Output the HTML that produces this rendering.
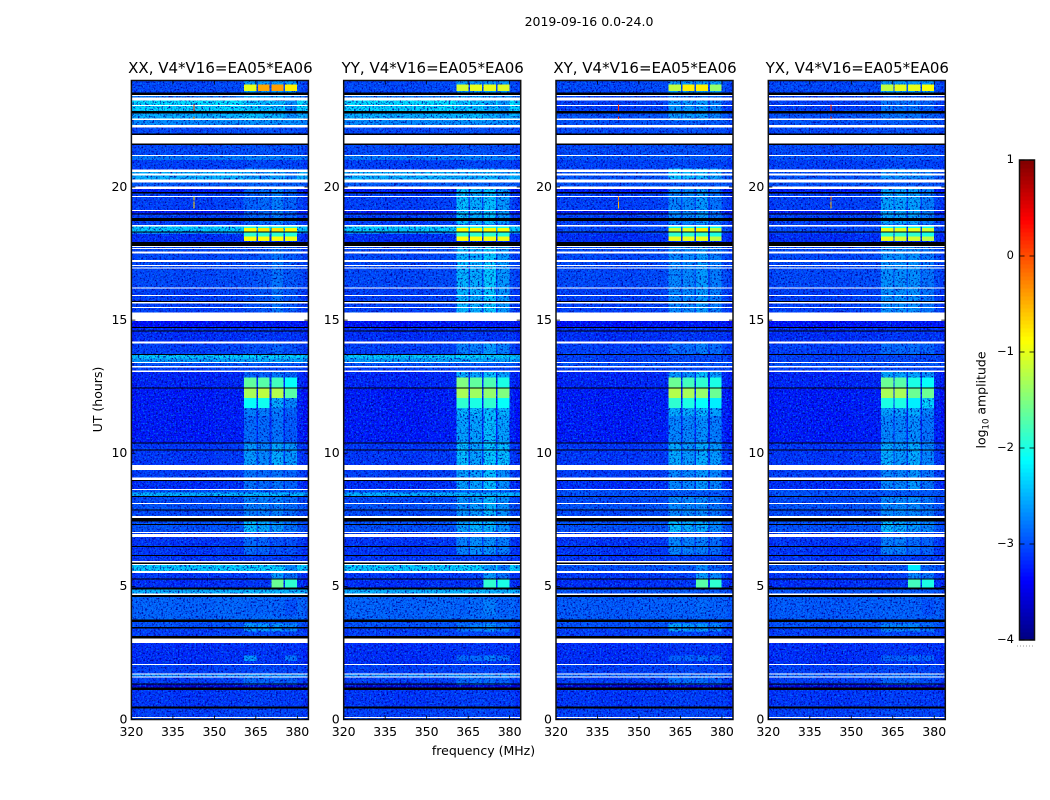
<!DOCTYPE html>
<html lang="en">
<head>
<meta charset="utf-8">
<title>2019-09-16 0.0-24.0</title>
<style>
html,body{margin:0;padding:0;background:#fff;}
#figure{display:block;width:1050px;height:800px;}
text{font-family:"DejaVu Sans","Liberation Sans",sans-serif;fill:#000;}
</style>
</head>
<body>
<svg id="figure" xmlns="http://www.w3.org/2000/svg" width="1050" height="800" viewBox="0 0 1050 800">
  <defs>
    <filter id="speckle-dark" x="0" y="0" width="1" height="1" color-interpolation-filters="sRGB">
      <feTurbulence type="fractalNoise" baseFrequency="0.55" numOctaves="2" seed="4"/>
      <feColorMatrix type="matrix" values="0 0 0 0 0  0 0 0 0 0  0 0 0 0 0.6  4 0 0 0 -2"/>
    </filter>
    <filter id="speckle-bright" x="0" y="0" width="1" height="1" color-interpolation-filters="sRGB">
      <feTurbulence type="fractalNoise" baseFrequency="0.6" numOctaves="2" seed="11"/>
      <feColorMatrix type="matrix" values="0 0 0 0 0  0 0 0 0 0.6  0 0 0 0 1  0 4 0 0 -2"/>
    </filter>
  </defs>
  <text x="589" y="26" font-size="12.5" text-anchor="middle">2019-09-16 0.0-24.0</text>
  <text x="483.5" y="755" font-size="12.5" text-anchor="middle">frequency (MHz)</text>
  <text x="0" y="0" font-size="12.5" text-anchor="middle" transform="translate(102,399.5) rotate(-90)">UT (hours)</text>
  <text x="0" y="0" font-size="12.5" text-anchor="middle" transform="translate(985.5,400) rotate(-90)">log<tspan font-size="8.5" dy="3">10</tspan><tspan dy="-3"> amplitude</tspan></text>
  <g id="panels"></g>
  <g id="colorbar"></g>
</svg>
<script>
const n = null;
const panelTitles = ["XX, V4*V16=EA05*EA06", "YY, V4*V16=EA05*EA06", "XY, V4*V16=EA05*EA06", "YX, V4*V16=EA05*EA06"];
const xTicks = [320, 335, 350, 365, 380];
const yTicks = [0, 5, 10, 15, 20];
const colorTicks = [-4, -3, -2, -1, 0, 1];
const freqMin = 320, freqMax = 384, utMin = 0, utMax = 24, colorMin = -4, colorMax = 1;

// Time rows: upper edge in UT hours, flag (d data, w white gap, k black flagged), log10 amplitude.
const rowTopUT = [
 0.05,0.09,0.41,0.48,1.11,1.21,1.33,1.36,1.57,1.61,
 1.70,1.73,2.05,2.08,2.88,3.05,3.14,3.42,3.48,3.67,
 3.76,4.61,4.68,4.74,4.89,4.96,5.26,5.30,5.51,5.58,
 5.80,5.84,5.90,5.95,6.15,6.18,6.49,6.52,6.86,6.97,
 7.01,7.04,7.33,7.35,7.43,7.57,7.64,7.87,7.89,8.10,
 8.14,8.37,8.39,8.53,8.62,8.66,8.97,8.99,9.09,9.37,
 9.56,10.12,10.15,10.37,10.41,11.70,12.45,12.47,13.06,13.10,
 13.23,13.27,13.39,13.43,13.56,13.69,13.73,14.13,14.19,14.60,
 14.61,14.73,14.75,14.96,15.28,15.45,15.50,15.63,15.68,15.72,
 15.90,15.94,16.18,16.23,16.94,16.98,17.03,17.07,17.19,17.25,
 17.51,17.57,17.67,17.71,17.75,17.79,17.94,18.23,18.29,18.32,
 18.51,18.57,18.72,18.84,18.98,19.01,19.10,19.13,19.62,19.67,
 19.76,19.82,19.93,20.01,20.16,20.29,20.43,20.51,20.57,20.66,
 21.01,21.16,21.20,21.57,21.64,21.95,22.01,22.24,22.33,22.51,
 22.58,22.76,22.86,23.04,23.08,23.24,23.36,23.43,23.46,23.54,24.00];
const rowFlag = [
 "d","w","d","k","d","k","d","k","d","w",
 "d","w","d","w","d","w","k","d","k","d",
 "k","d","k","w","d","k","d","k","d","w",
 "d","w","k","w","d","k","d","k","d","w",
 "d","w","d","k","d","k","w","d","k","d",
 "w","d","k","d","d","w","d","k","w","d",
 "w","d","k","d","k","d","d","k","d","w",
 "d","w","d","w","d","d","k","d","w","d",
 "k","d","k","d","w","d","w","d","w","k",
 "d","w","d","w","d","w","d","w","d","w",
 "d","w","d","w","d","w","k","d","d","k",
 "d","w","d","k","d","k","d","w","d","w",
 "d","k","d","w","d","w","d","w","d","w",
 "d","d","w","d","k","w","k","d","w","d",
 "w","d","k","d","w","d","w","d","w","k","d"];
const levelParallel = [
 -3.05,n,-3.1,n,-3.15,n,-3.6,n,-3.1,n,
 -2.7,n,-3.1,n,-3.2,n,n,-3.1,n,-3.0,
 n,-2.9,n,n,-2.5,n,-3.2,n,-3.15,n,
 -2.35,n,n,n,-3.15,n,-3.15,n,-3.15,n,
 -3.1,n,-3.0,n,-3.0,n,n,-3.05,n,-3.0,
 n,-3.05,n,-2.5,-3.0,n,-3.2,n,n,-3.1,
 n,-3.15,n,-3.15,n,-3.3,-3.3,n,-3.25,n,
 -3.1,n,-3.0,n,-2.6,-2.35,n,-3.1,n,-3.2,
 n,-3.2,n,-3.35,n,-3.1,n,-3.1,n,n,
 -3.1,n,-3.1,n,-3.05,n,-3.05,n,-3.05,n,
 -3.05,n,-3.05,n,-3.05,n,n,-3.2,-2.7,n,
 -2.35,n,-3.1,n,-3.1,n,-3.3,n,-3.1,n,
 -3.1,n,-3.3,n,-2.95,n,-2.5,n,-2.5,n,
 -3.1,-2.8,n,-3.05,n,n,n,-3.05,n,-2.7,
 n,-2.5,n,-2.3,n,-2.25,n,-2.8,n,n,-3.05];
const levelCross = [
 -3.05,n,-3.1,n,-3.15,n,-3.6,n,-3.1,n,
 -2.9,n,-3.1,n,-3.2,n,n,-3.1,n,-3.0,
 n,-2.95,n,n,-3.0,n,-3.2,n,-3.15,n,
 -3.0,n,n,n,-3.15,n,-3.15,n,-3.15,n,
 -3.1,n,-3.0,n,-3.0,n,n,-3.05,n,-3.0,
 n,-3.05,n,-3.0,-3.0,n,-3.2,n,n,-3.1,
 n,-3.15,n,-3.15,n,-3.3,-3.3,n,-3.25,n,
 -3.1,n,-3.0,n,-3.1,-3.1,n,-3.1,n,-3.2,
 n,-3.2,n,-3.35,n,-3.1,n,-3.1,n,n,
 -3.1,n,-3.1,n,-3.05,n,-3.05,n,-3.05,n,
 -3.05,n,-3.05,n,-3.05,n,n,-3.2,-3.1,n,
 -3.05,n,-3.1,n,-3.1,n,-3.3,n,-3.1,n,
 -3.1,n,-3.3,n,-3.0,n,-3.0,n,-3.0,n,
 -3.1,-3.0,n,-3.05,n,n,n,-3.05,n,-3.0,
 n,-3.0,n,-3.1,n,-3.1,n,-3.1,n,n,-3.05];

// Slow bandpass ripple across frequency (log10 offset per frequency span).
const bandpassEdges = [320, 322, 335, 350, 362, 372, 382, 384];
const bandpassOffset = [-0.02, 0.02, 0, 0.03, 0.06, 0.04, -0.04];

// Four RFI-bright frequency blocks.
const blockStartMHz = [360.7, 365.7, 370.6, 375.6];
const blockEndMHz = [365.2, 370.0, 375.0, 379.9];
const brightThreshold = -2.2;

// Time spans with emission in those blocks and per-polarisation log10 amplitude per block.
const rfiStartUT = [1.3,2.2,3.3,3.9,4.96,5.26,5.6,6.2,7.0,7.65,8.6,9.56,10.4,11.4,11.7,12.07,12.45,12.85,13.73,15.0,17.97,18.15,18.3,18.46,18.6,20.3,22.5,23.54,23.61,23.85];
const rfiEndUT = [1.6,2.4,3.6,4.5,5.26,5.5,5.8,6.9,7.65,8.37,9.56,10.4,11.4,11.7,12.07,12.45,12.85,13.1,14.2,17.9,18.15,18.3,18.46,18.52,20.0,20.7,23.4,23.61,23.85,24.0];
const rfiXX = [[-2.85,-2.9,-2.9,-2.9],[-2.6,n,n,-2.8],[-2.6,-2.6,-2.6,-2.7],[-2.9,-2.9,-2.9,-3.0],[n,n,-1.6,-1.9],[n,n,-2.6,-2.8],[n,n,-2.3,-2.7],[-2.85,-2.9,-3.0,-3.0],[-2.4,-2.5,-2.6,-2.8],[-2.75,-2.75,-2.75,-2.85],[-2.8,-2.85,-2.8,-2.9],[-2.6,-2.7,-2.5,-2.6],[-2.85,-2.85,-2.8,-2.95],[-2.75,-2.75,-2.75,-2.9],[-2.1,-2.05,-2.5,-2.7],[-1.3,-1.2,-1.25,-1.7],[-1.65,-1.7,-1.8,-2.1],[-2.9,-2.9,-2.8,-2.9],[-3.0,-3.0,-2.9,-3.0],[-3.0,-2.95,-2.8,-2.95],[-0.9,-0.9,-0.9,-0.95],[-1.9,-1.9,-1.9,-1.95],[-0.85,-0.75,-0.75,-0.85],[-2.0,-2.0,-2.0,-2.0],[-2.9,-2.85,-2.75,-2.9],[-2.6,-2.7,-2.6,-2.8],[-2.35,-2.45,-2.45,-2.65],[-2.6,-2.6,-2.6,-2.6],[-1.0,-0.45,-0.4,-0.8],[-2.6,-2.6,-2.6,-2.6]];
const rfiYY = [[-2.85,-2.85,-2.85,-2.9],[-2.85,-2.85,-2.75,-2.85],[-2.8,-2.75,-2.65,-2.8],[-2.9,-2.85,-2.75,-2.9],[n,n,-1.9,-2.0],[n,n,-2.6,-2.8],[n,n,-2.6,-2.8],[-2.75,-2.65,-2.65,-2.75],[-2.55,-2.45,-2.45,-2.65],[-2.65,-2.6,-2.45,-2.65],[-2.55,-2.55,-2.4,-2.65],[-2.4,-2.55,-2.35,-2.4],[-2.55,-2.55,-2.4,-2.55],[-2.45,-2.45,-2.4,-2.45],[-1.9,-2.0,-1.9,-2.1],[-1.3,-1.35,-1.4,-1.5],[-1.5,-1.65,-1.75,-2.0],[-2.5,-2.55,-2.4,-2.55],[-2.75,-2.75,-2.6,-2.75],[-2.45,-2.5,-2.35,-2.6],[-0.9,-0.9,-0.95,-0.95],[-1.9,-1.9,-1.9,-1.95],[-0.85,-0.85,-0.85,-0.9],[-2.0,-2.0,-2.0,-2.0],[-2.4,-2.5,-2.4,-2.6],[-2.55,-2.55,-2.45,-2.65],[-2.4,-2.4,-2.5,-2.6],[-2.6,-2.6,-2.6,-2.6],[-1.1,-1.0,-1.0,-1.05],[-2.6,-2.6,-2.6,-2.6]];
const rfiXY = [[-2.85,-2.85,-2.85,-2.9],[-2.9,-2.9,-2.85,-2.9],[-2.5,-2.6,-2.6,-2.7],[-2.9,-2.9,-2.85,-2.9],[n,n,-1.7,-1.9],[n,n,-2.6,-2.7],[n,n,-2.7,-2.9],[-2.7,-2.75,-2.75,-2.85],[-2.4,-2.5,-2.5,-2.7],[-2.7,-2.7,-2.7,-2.8],[-2.7,-2.7,-2.6,-2.7],[-2.5,-2.6,-2.5,-2.6],[-2.7,-2.7,-2.65,-2.75],[-2.5,-2.5,-2.45,-2.55],[-1.9,-2.0,-2.1,-2.2],[-1.25,-1.3,-1.4,-1.6],[-1.6,-1.8,-1.9,-2.0],[-2.6,-2.65,-2.4,-2.6],[-2.85,-2.85,-2.75,-2.85],[-2.7,-2.7,-2.6,-2.75],[-1.0,-1.0,-1.0,-1.2],[-1.9,-1.9,-1.9,-2.0],[-1.1,-1.0,-0.8,-1.2],[-2.1,-2.1,-2.1,-2.1],[-2.7,-2.7,-2.6,-2.8],[-2.35,-2.45,-2.45,-2.55],[-2.6,-2.6,-2.6,-2.7],[-2.6,-2.6,-2.6,-2.6],[-1.2,-0.8,-0.8,-1.4],[-2.6,-2.6,-2.6,-2.6]];
const rfiYX = [[-2.9,-2.9,-2.9,-3.0],[-2.9,-2.9,-2.85,-2.9],[-2.7,-2.7,-2.7,-2.8],[-2.9,-2.9,-2.9,-3.0],[n,n,-1.8,-2.0],[n,n,-2.7,-2.8],[n,n,-2.2,-2.9],[-2.75,-2.75,-2.85,-2.9],[-2.4,-2.5,-2.6,-2.7],[-2.7,-2.7,-2.7,-2.8],[-2.7,-2.7,-2.6,-2.8],[-2.5,-2.6,-2.5,-2.7],[-2.7,-2.7,-2.65,-2.8],[-2.55,-2.55,-2.5,-2.7],[-2.0,-2.0,-2.2,-2.3],[-1.3,-1.3,-1.6,-1.6],[-1.6,-1.7,-2.0,-2.1],[-2.55,-2.55,-2.55,-2.65],[-2.85,-2.85,-2.85,-2.9],[-2.65,-2.65,-2.65,-2.8],[-1.0,-1.1,-1.1,-1.2],[-1.9,-1.9,-1.9,-2.0],[-0.95,-1.0,-1.0,-1.1],[-2.1,-2.1,-2.1,-2.1],[-2.55,-2.55,-2.55,-2.75],[-2.65,-2.65,-2.65,-2.75],[-2.8,-2.8,-2.8,-2.9],[-2.6,-2.6,-2.6,-2.6],[-1.2,-1.0,-1.0,-0.9],[-2.6,-2.6,-2.6,-2.6]];

// Narrow-band spike at one channel (log10 amplitude per span, per polarisation).
const spikeFreqMHz = 342.4;
const spikeStartUT = [22.85, 22.55, 19.2, 19.5];
const spikeEndUT = [23.1, 22.65, 19.45, 19.65];
const spikeXX = [0.1, -0.2, -0.7, -0.7];
const spikeYY = [n, n, n, n];
const spikeXY = [0.2, 0.2, -0.5, -0.2];
const spikeYX = [0.2, 0.1, -0.5, -0.2];

const SVG_NS = "http://www.w3.org/2000/svg";
const axesTop = 80.5, axesBottom = 719.5, axesWidth = 177;
const panelLeft = i => 131.4 + 212.3 * i;
const yScale = ut => axesBottom - (ut - utMin) / (utMax - utMin) * (axesBottom - axesTop);
const xScaleFor = left => f => left + (f - freqMin) / (freqMax - freqMin) * axesWidth;
const minus = v => String(v).replace("-", "\u2212");

function jet(v) {
  const t = Math.max(0, Math.min(1, (v - colorMin) / (colorMax - colorMin)));
  const ramp = (a) => Math.max(0, Math.min(1, 1.5 - Math.abs(4 * t - a)));
  return "rgb(" + Math.round(255 * ramp(3)) + "," + Math.round(255 * ramp(2)) + "," + Math.round(255 * ramp(1)) + ")";
}
function make(parent, tag, attrs) {
  const el = document.createElementNS(SVG_NS, tag);
  for (const key in attrs) el.setAttribute(key, attrs[key]);
  parent.appendChild(el);
  return el;
}

const panelsRoot = document.getElementById("panels");
const rfiByPanel = [rfiXX, rfiYY, rfiXY, rfiYX];
const spikeByPanel = [spikeXX, spikeYY, spikeXY, spikeYX];
const levelByPanel = [levelParallel, levelParallel, levelCross, levelCross];

panelTitles.forEach((title, p) => {
  const left = panelLeft(p);
  const xScale = xScaleFor(left);
  const group = make(panelsRoot, "g", {});
  
  

  const clip = make(group, "clipPath", { id: "clip-" + p });
  make(clip, "rect", { x: left, y: axesTop, width: axesWidth, height: axesBottom - axesTop });

  const image = make(group, "g", { "clip-path": "url(#clip-" + p + ")", "shape-rendering": "crispEdges" });
  
  

  rowTopUT.forEach((top, r) => {
    if (rowFlag[r] !== "d") return;
    const bottom = r === 0 ? utMin : rowTopUT[r - 1];
    bandpassOffset.forEach((offset, c) => {
      const x0 = xScale(bandpassEdges[c]), x1 = xScale(bandpassEdges[c + 1]);
      const cell = make(image, "rect", { x: x0, y: yScale(top), width: x1 - x0, height: yScale(bottom) - yScale(top), fill: jet(levelByPanel[p][r] + offset) });
      
      
    });
  });

  const drawBlocks = wantBright => {
    rfiStartUT.forEach((start, s) => {
      blockStartMHz.forEach((blockStart, b) => {
        const value = rfiByPanel[p][s][b];
        if (value === null || (value >= brightThreshold) !== wantBright) return;
        const x0 = xScale(blockStart), x1 = xScale(blockEndMHz[b]);
        const block = make(image, "rect", { x: x0, y: yScale(rfiEndUT[s]), width: x1 - x0, height: yScale(start) - yScale(rfiEndUT[s]), fill: jet(value) });
        
        
      });
    });
  };

  drawBlocks(false);

  const darkNoise = make(image, "rect", { x: left, y: axesTop, width: axesWidth, height: axesBottom - axesTop, filter: "url(#speckle-dark)" });
  
  
  const brightNoise = make(image, "rect", { x: left, y: axesTop, width: axesWidth, height: axesBottom - axesTop, filter: "url(#speckle-bright)", opacity: "0.6" });
  
  

  drawBlocks(true);

  rowTopUT.forEach((top, r) => {
    if (rowFlag[r] === "d") return;
    const bottom = r === 0 ? utMin : rowTopUT[r - 1];
    const flagged = make(image, "rect", { x: left, y: yScale(top), width: axesWidth, height: Math.max(1, yScale(bottom) - yScale(top)), fill: rowFlag[r] === "w" ? "#fff" : "#000" });
    
    
  });

  spikeStartUT.forEach((start, s) => {
    const value = spikeByPanel[p][s];
    if (value === null) return;
    const spike = make(image, "rect", { x: xScale(spikeFreqMHz), y: yScale(spikeEndUT[s]), width: 1, height: yScale(start) - yScale(spikeEndUT[s]), fill: jet(value) });
    
    
  });

  const frame = make(group, "rect", { x: left, y: axesTop, width: axesWidth, height: axesBottom - axesTop, fill: "none", stroke: "#111", "stroke-width": "1.5" });
  
  

  xTicks.forEach(tick => {
    const x = xScale(tick);
    const low = make(group, "line", { x1: x, x2: x, y1: axesBottom, y2: axesBottom - 4, stroke: "#000", "stroke-width": "0.8" });
    
    
    const high = make(group, "line", { x1: x, x2: x, y1: axesTop, y2: axesTop + 4, stroke: "#000", "stroke-width": "0.8" });
    
    
    const label = make(group, "text", { x: x, y: 736, "font-size": "12.5", "text-anchor": "middle" });
    
    
    label.textContent = tick;
  });

  yTicks.forEach(tick => {
    const y = yScale(tick);
    const low = make(group, "line", { x1: left, x2: left + 4, y1: y, y2: y, stroke: "#000", "stroke-width": "0.8" });
    
    
    const high = make(group, "line", { x1: left + axesWidth, x2: left + axesWidth - 4, y1: y, y2: y, stroke: "#000", "stroke-width": "0.8" });
    
    
    const label = make(group, "text", { x: left - 4, y: y + 3.8, "font-size": "12.5", "text-anchor": "end" });
    
    
    label.textContent = tick;
  });

  const heading = make(group, "text", { x: left + axesWidth / 2 + 0.5, y: 73, "font-size": "15", "text-anchor": "middle" });
  
  
  heading.textContent = title;
});

// Colorbar
const barRoot = document.getElementById("colorbar");
const barLeft = 1019.5, barWidth = 15, barTop = 160, barBottom = 640, barSteps = 120;
const barScale = v => barBottom - (v - colorMin) / (colorMax - colorMin) * (barBottom - barTop);
const barGroup = make(barRoot, "g", { "shape-rendering": "crispEdges" });
for (let i = 0; i < barSteps; i++) {
  const lo = colorMin + (colorMax - colorMin) * i / barSteps;
  const hi = colorMin + (colorMax - colorMin) * (i + 1) / barSteps;
  const swatch = make(barGroup, "rect", { x: barLeft, y: barScale(hi), width: barWidth, height: barScale(lo) - barScale(hi) + 0.5, fill: jet((lo + hi) / 2) });
  
  
}
const barFrame = make(barRoot, "rect", { x: barLeft, y: barTop, width: barWidth, height: barBottom - barTop, fill: "none", stroke: "#111", "stroke-width": "1.5" });


colorTicks.forEach(tick => {
  const y = barScale(tick);
  const tickLeft = make(barRoot, "line", { x1: barLeft, x2: barLeft + 5, y1: y, y2: y, stroke: "#000", "stroke-width": "0.8" });
  
  
  const tickRight = make(barRoot, "line", { x1: barLeft + barWidth - 5, x2: barLeft + barWidth, y1: y, y2: y, stroke: "#000", "stroke-width": "0.8" });
  
  
  const label = make(barRoot, "text", { x: 1014, y: y + 3, "font-size": "11.5", "text-anchor": "end" });
  
  
  label.textContent = minus(tick);
});
const barDots = make(barRoot, "line", { x1: 1017, x2: 1035, y1: 646, y2: 646, stroke: "#999", "stroke-width": "1", "stroke-dasharray": "1 2" });


</script>
</body>
</html>
